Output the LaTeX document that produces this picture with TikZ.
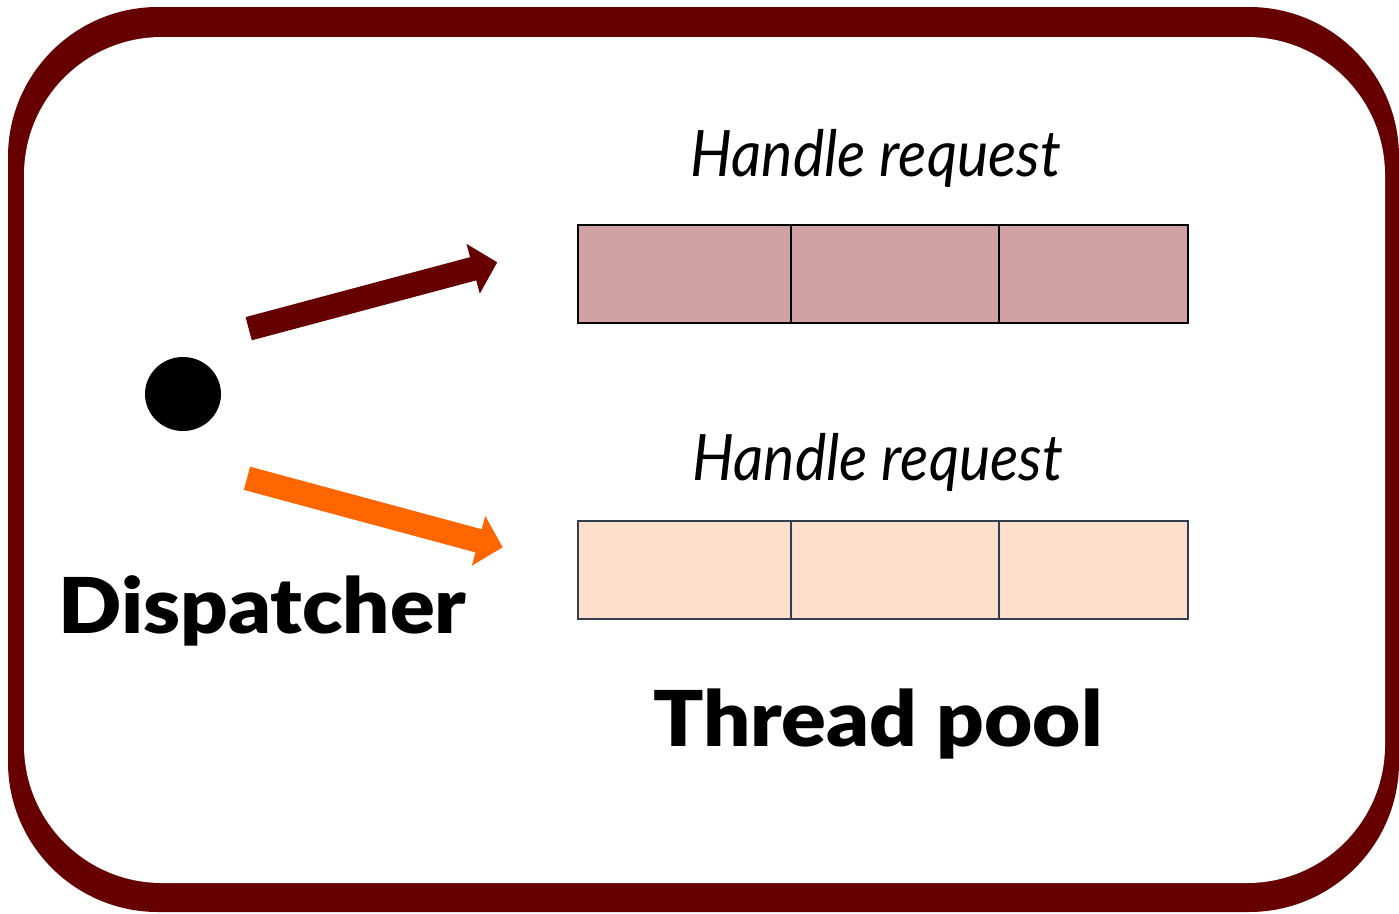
\documentclass[tikz,border=0pt]{standalone}
\usepackage{fontspec}
\setmainfont{Lato}
\IfFontExistsTF{Lato Black}
  {\newfontfamily\heavyfont{Lato Black}}
  {\newfontfamily\heavyfont{Lato}[UprightFont=*-Bold, FakeBold=1.2]}
\usetikzlibrary{arrows.meta,shapes.geometric}
\definecolor{framered}{HTML}{660000}
\definecolor{cellpink}{HTML}{D0A2A4}
\definecolor{cellpeach}{HTML}{FDDFCC}
\definecolor{slate}{HTML}{333D4F}
\definecolor{dispatchorange}{HTML}{FF6600}
\tikzset{
  cellA/.style={draw=black, fill=cellpink, line width=2.4pt, inner sep=0pt, minimum height=98pt},
  cellB/.style={draw=slate, fill=cellpeach, line width=2.4pt, inner sep=0pt, minimum height=98pt},
  caption/.style={anchor=base, inner sep=0pt, xscale=0.922, font=\fontsize{64}{70}\selectfont\itshape},
  title/.style={anchor=base, inner sep=0pt, xscale=1.08, font=\fontsize{77}{84}\selectfont\heavyfont},
  fatarrow/.style={line width=24pt, -{Triangle[length=25pt,width=50pt]}},
}
\begin{document}
\begin{tikzpicture}[x=1pt,y=-1pt]
\useasboundingbox (0,0) rectangle (1399,913);
% rounded frame
\fill[framered, rounded corners=150pt] (8,7) rectangle (1399,912);
\fill[white, rounded corners=138pt] (24,37) rectangle (1385,883);

% dispatcher dot
\node[draw=none, fill=black, ellipse, minimum width=76pt, minimum height=74pt, inner sep=0pt] (dot) at (183,394) {};

% thread rows
\node[cellA, minimum width=213pt] (t1) at (684.5,274) {};
\node[cellA, minimum width=208pt] (t2) at (895,274) {};
\node[cellA, minimum width=189pt] (t3) at (1093.5,274) {};
\node[cellB, minimum width=213pt] (b1) at (684.5,570) {};
\node[cellB, minimum width=208pt] (b2) at (895,570) {};
\node[cellB, minimum width=189pt] (b3) at (1093.5,570) {};

% labels
\node[caption] (h1) at (876,176) {Handle request};
\node[caption] (h2) at (878,480) {Handle request};
\node[title] (disp) at (262.5,633) {Dispatcher};
\node[title] (pool) at (878,746) {Thread pool};

% dispatch arrows
\coordinate (a1s) at (248.7,328.7);
\coordinate (a1e) at (497.3,262.3);
\coordinate (a2s) at (247,478.3);
\coordinate (a2e) at (502.7,547.3);
\draw[fatarrow, framered] (a1s) -- (a1e);
\draw[fatarrow, dispatchorange] (a2s) -- (a2e);
\end{tikzpicture}
\end{document}
